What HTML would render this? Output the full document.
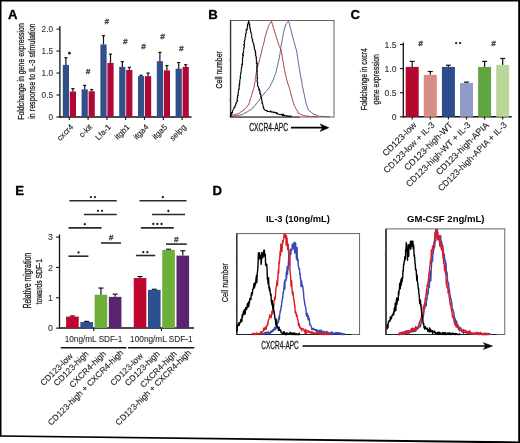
<!DOCTYPE html>
<html><head><meta charset="utf-8"><title>Figure</title>
<style>
html,body{margin:0;padding:0;background:#fff;width:520px;height:443px;overflow:hidden;}
svg{display:block;will-change:transform;}
text{font-family:"Liberation Sans",sans-serif;}
text.n{stroke:#222;stroke-width:0.28px;}
text.t{stroke:#333;stroke-width:0.1px;}
text.m{stroke:#2a2a2a;stroke-width:0.12px;}
</style></head><body>
<svg width="520" height="443" viewBox="0 0 520 443">
<rect x="0" y="0" width="520" height="443" fill="#fff"/>
<text x="8.00" y="18.80" font-size="13.2" text-anchor="start" fill="#000" font-weight="bold" stroke="#000" stroke-width="0.3">A</text>
<line x1="59.90" y1="26.00" x2="59.90" y2="117.60" stroke="#111" stroke-width="1.3"/>
<line x1="59.30" y1="117.00" x2="191.50" y2="117.00" stroke="#111" stroke-width="1.5"/>
<line x1="56.50" y1="29.10" x2="59.90" y2="29.10" stroke="#111" stroke-width="1.1"/>
<text x="53.00" y="32.20" font-size="8.2" text-anchor="end" fill="#333" class="t">2.0</text>
<line x1="56.50" y1="51.07" x2="59.90" y2="51.07" stroke="#111" stroke-width="1.1"/>
<text x="53.00" y="54.17" font-size="8.2" text-anchor="end" fill="#333" class="t">1.5</text>
<line x1="56.50" y1="73.05" x2="59.90" y2="73.05" stroke="#111" stroke-width="1.1"/>
<text x="53.00" y="76.15" font-size="8.2" text-anchor="end" fill="#333" class="t">1.0</text>
<line x1="56.50" y1="95.03" x2="59.90" y2="95.03" stroke="#111" stroke-width="1.1"/>
<text x="53.00" y="98.12" font-size="8.2" text-anchor="end" fill="#333" class="t">0.5</text>
<line x1="56.50" y1="117.00" x2="59.90" y2="117.00" stroke="#111" stroke-width="1.1"/>
<text x="53.00" y="120.10" font-size="8.2" text-anchor="end" fill="#333" class="t">0</text>
<rect x="62.80" y="64.92" width="6.20" height="52.08" fill="#324F8A"/>
<rect x="69.80" y="91.51" width="6.20" height="25.49" fill="#B00836"/>
<line x1="65.90" y1="57.67" x2="65.90" y2="64.92" stroke="#111" stroke-width="1.2"/>
<line x1="64.30" y1="57.67" x2="67.50" y2="57.67" stroke="#111" stroke-width="1.2"/>
<line x1="72.90" y1="88.65" x2="72.90" y2="91.51" stroke="#111" stroke-width="1.2"/>
<line x1="71.30" y1="88.65" x2="74.50" y2="88.65" stroke="#111" stroke-width="1.2"/>
<line x1="69.30" y1="117.00" x2="69.30" y2="119.90" stroke="#111" stroke-width="1.1"/>
<text x="73.90" y="127.60" font-size="8.1" text-anchor="end" fill="#222" class="m" transform="rotate(-45 73.90 127.60)">cxcr4</text>
<circle cx="69.40" cy="53.20" r="1.4" fill="#1a1a1a"/>
<rect x="81.60" y="89.31" width="6.20" height="27.69" fill="#324F8A"/>
<rect x="88.60" y="91.29" width="6.20" height="25.71" fill="#B00836"/>
<line x1="84.70" y1="85.36" x2="84.70" y2="89.31" stroke="#111" stroke-width="1.2"/>
<line x1="83.10" y1="85.36" x2="86.30" y2="85.36" stroke="#111" stroke-width="1.2"/>
<line x1="91.70" y1="89.53" x2="91.70" y2="91.29" stroke="#111" stroke-width="1.2"/>
<line x1="90.10" y1="89.53" x2="93.30" y2="89.53" stroke="#111" stroke-width="1.2"/>
<line x1="88.10" y1="117.00" x2="88.10" y2="119.90" stroke="#111" stroke-width="1.1"/>
<text x="92.70" y="127.60" font-size="8.1" text-anchor="end" fill="#222" class="m" transform="rotate(-45 92.70 127.60)">c-kit</text>
<text x="88.10" y="73.80" font-size="8" text-anchor="middle" font-weight="bold" fill="#4a4a4a" stroke="#4a4a4a" stroke-width="0.35" font-style="italic">#</text>
<rect x="100.40" y="44.48" width="6.20" height="72.52" fill="#324F8A"/>
<rect x="107.40" y="62.94" width="6.20" height="54.06" fill="#B00836"/>
<line x1="103.50" y1="35.69" x2="103.50" y2="44.48" stroke="#111" stroke-width="1.2"/>
<line x1="101.90" y1="35.69" x2="105.10" y2="35.69" stroke="#111" stroke-width="1.2"/>
<line x1="110.50" y1="54.15" x2="110.50" y2="62.94" stroke="#111" stroke-width="1.2"/>
<line x1="108.90" y1="54.15" x2="112.10" y2="54.15" stroke="#111" stroke-width="1.2"/>
<line x1="106.90" y1="117.00" x2="106.90" y2="119.90" stroke="#111" stroke-width="1.1"/>
<text x="111.50" y="127.60" font-size="8.1" text-anchor="end" fill="#222" class="m" transform="rotate(-45 111.50 127.60)">Lfa-1</text>
<text x="106.80" y="23.90" font-size="8" text-anchor="middle" font-weight="bold" fill="#4a4a4a" stroke="#4a4a4a" stroke-width="0.35" font-style="italic">#</text>
<rect x="119.20" y="66.90" width="6.20" height="50.10" fill="#324F8A"/>
<rect x="126.20" y="69.97" width="6.20" height="47.03" fill="#B00836"/>
<line x1="122.30" y1="61.62" x2="122.30" y2="66.90" stroke="#111" stroke-width="1.2"/>
<line x1="120.70" y1="61.62" x2="123.90" y2="61.62" stroke="#111" stroke-width="1.2"/>
<line x1="129.30" y1="67.34" x2="129.30" y2="69.97" stroke="#111" stroke-width="1.2"/>
<line x1="127.70" y1="67.34" x2="130.90" y2="67.34" stroke="#111" stroke-width="1.2"/>
<line x1="125.70" y1="117.00" x2="125.70" y2="119.90" stroke="#111" stroke-width="1.1"/>
<text x="130.30" y="127.60" font-size="8.1" text-anchor="end" fill="#222" class="m" transform="rotate(-45 130.30 127.60)">itgb1</text>
<text x="125.30" y="44.20" font-size="8" text-anchor="middle" font-weight="bold" fill="#4a4a4a" stroke="#4a4a4a" stroke-width="0.35" font-style="italic">#</text>
<rect x="138.00" y="76.13" width="6.20" height="40.87" fill="#324F8A"/>
<rect x="145.00" y="76.13" width="6.20" height="40.87" fill="#B00836"/>
<line x1="141.10" y1="75.25" x2="141.10" y2="76.13" stroke="#111" stroke-width="1.2"/>
<line x1="139.50" y1="75.25" x2="142.70" y2="75.25" stroke="#111" stroke-width="1.2"/>
<line x1="148.10" y1="73.05" x2="148.10" y2="76.13" stroke="#111" stroke-width="1.2"/>
<line x1="146.50" y1="73.05" x2="149.70" y2="73.05" stroke="#111" stroke-width="1.2"/>
<line x1="144.50" y1="117.00" x2="144.50" y2="119.90" stroke="#111" stroke-width="1.1"/>
<text x="149.10" y="127.60" font-size="8.1" text-anchor="end" fill="#222" class="m" transform="rotate(-45 149.10 127.60)">itga4</text>
<text x="143.40" y="48.80" font-size="8" text-anchor="middle" font-weight="bold" fill="#4a4a4a" stroke="#4a4a4a" stroke-width="0.35" font-style="italic">#</text>
<rect x="156.80" y="61.18" width="6.20" height="55.82" fill="#324F8A"/>
<rect x="163.80" y="70.41" width="6.20" height="46.59" fill="#B00836"/>
<line x1="159.90" y1="52.39" x2="159.90" y2="61.18" stroke="#111" stroke-width="1.2"/>
<line x1="158.30" y1="52.39" x2="161.50" y2="52.39" stroke="#111" stroke-width="1.2"/>
<line x1="166.90" y1="65.58" x2="166.90" y2="70.41" stroke="#111" stroke-width="1.2"/>
<line x1="165.30" y1="65.58" x2="168.50" y2="65.58" stroke="#111" stroke-width="1.2"/>
<line x1="163.30" y1="117.00" x2="163.30" y2="119.90" stroke="#111" stroke-width="1.1"/>
<text x="167.90" y="127.60" font-size="8.1" text-anchor="end" fill="#222" class="m" transform="rotate(-45 167.90 127.60)">itga5</text>
<text x="162.60" y="39.10" font-size="8" text-anchor="middle" font-weight="bold" fill="#4a4a4a" stroke="#4a4a4a" stroke-width="0.35" font-style="italic">#</text>
<rect x="175.60" y="68.66" width="6.20" height="48.35" fill="#324F8A"/>
<rect x="182.60" y="66.90" width="6.20" height="50.10" fill="#B00836"/>
<line x1="178.70" y1="62.50" x2="178.70" y2="68.66" stroke="#111" stroke-width="1.2"/>
<line x1="177.10" y1="62.50" x2="180.30" y2="62.50" stroke="#111" stroke-width="1.2"/>
<line x1="185.70" y1="64.70" x2="185.70" y2="66.90" stroke="#111" stroke-width="1.2"/>
<line x1="184.10" y1="64.70" x2="187.30" y2="64.70" stroke="#111" stroke-width="1.2"/>
<line x1="182.10" y1="117.00" x2="182.10" y2="119.90" stroke="#111" stroke-width="1.1"/>
<text x="186.70" y="127.60" font-size="8.1" text-anchor="end" fill="#222" class="m" transform="rotate(-45 186.70 127.60)">selpg</text>
<text x="181.30" y="50.60" font-size="8" text-anchor="middle" font-weight="bold" fill="#4a4a4a" stroke="#4a4a4a" stroke-width="0.35" font-style="italic">#</text>
<text x="23.80" y="71.50" font-size="9.8" text-anchor="middle" fill="#222" class="n" textLength="96.60" lengthAdjust="spacingAndGlyphs" transform="rotate(-90 23.80 71.50)">Foldchange in gene expression</text>
<text x="35.20" y="71.10" font-size="9.6" text-anchor="middle" fill="#222" class="n" textLength="95.40" lengthAdjust="spacingAndGlyphs" transform="rotate(-90 35.20 71.10)">in response to IL-3 stimulation</text>
<text x="208.20" y="18.80" font-size="13.2" text-anchor="start" fill="#000" font-weight="bold" stroke="#000" stroke-width="0.3">B</text>
<rect x="230.3" y="20.5" width="103.69999999999999" height="96.5" fill="none" stroke="#555" stroke-width="0.9"/>
<line x1="230.70" y1="20.50" x2="230.70" y2="117.30" stroke="#2a2a2a" stroke-width="1.1"/>
<line x1="230.20" y1="117.10" x2="300.00" y2="117.10" stroke="#3a3a3a" stroke-width="1.0"/>
<line x1="228.80" y1="40.00" x2="230.30" y2="40.00" stroke="#777" stroke-width="0.6"/>
<line x1="228.80" y1="60.00" x2="230.30" y2="60.00" stroke="#777" stroke-width="0.6"/>
<line x1="228.80" y1="80.00" x2="230.30" y2="80.00" stroke="#777" stroke-width="0.6"/>
<line x1="228.80" y1="100.00" x2="230.30" y2="100.00" stroke="#777" stroke-width="0.6"/>
<path d="M231.02,116.54 L231.73,116.48 L232.63,116.29 L233.51,115.98 L234.14,116.12 L234.91,115.94 L235.73,115.70 L236.50,115.71 L237.27,115.56 L238.13,115.43 L238.88,115.28 L239.81,115.21 L240.49,114.94 L241.30,114.88 L242.07,114.49 L242.68,114.26 L243.53,113.83 L244.08,113.42 L244.78,113.00 L245.53,112.70 L246.26,112.37 L246.87,111.98 L247.66,111.74 L248.21,111.28 L249.13,110.41 L249.69,110.08 L250.32,109.86 L250.98,109.41 L251.70,109.06 L252.31,108.55 L252.77,108.17 L253.29,107.17 L253.87,106.65 L254.36,106.33 L254.99,105.55 L255.52,104.94 L255.95,104.19 L256.50,103.44 L256.87,103.04 L257.50,102.39 L257.91,101.58 L258.42,101.00 L258.98,100.42 L259.13,99.66 L259.80,99.12 L260.16,98.49 L260.76,97.83 L261.08,97.12 L261.62,96.61 L262.19,96.03 L262.74,95.35 L263.21,94.61 L263.66,94.18 L264.20,93.42 L264.83,92.98 L265.28,92.13 L265.66,91.76 L266.38,91.04 L266.87,90.29 L267.43,89.79 L267.85,89.23 L268.47,88.65 L268.84,87.89 L269.49,87.27 L269.83,86.76 L270.26,85.95 L270.62,85.31 L270.82,84.65 L271.21,83.64 L271.56,83.14 L271.99,82.53 L272.29,81.62 L272.47,80.83 L272.94,80.30 L273.28,79.50 L273.70,78.84 L273.70,77.95 L274.10,77.08 L274.56,76.50 L274.65,75.73 L274.97,75.13 L275.42,74.33 L275.69,73.34 L275.74,72.62 L276.02,72.09 L276.17,71.29 L276.47,70.35 L276.53,69.65 L276.80,68.92 L276.83,68.15 L277.07,67.42 L277.27,66.57 L277.55,65.75 L277.69,64.95 L277.77,64.33 L278.07,63.15 L278.26,62.63 L278.37,61.87 L278.55,60.92 L278.74,60.35 L278.80,59.45 L279.14,58.86 L279.32,57.96 L279.36,57.26 L279.61,56.54 L279.57,55.65 L279.76,54.71 L279.89,53.84 L280.21,53.44 L280.05,52.43 L280.34,51.57 L280.50,50.88 L280.58,50.05 L280.76,49.38 L280.71,48.49 L280.74,47.70 L281.10,46.82 L281.07,46.18 L281.27,45.20 L281.32,44.62 L281.63,43.93 L281.75,42.78 L281.77,41.88 L282.04,41.46 L282.12,40.90 L282.24,39.69 L282.39,38.87 L282.51,38.31 L282.72,37.35 L282.83,36.60 L282.92,35.83 L283.17,35.15 L283.18,34.25 L283.39,33.54 L283.54,32.70 L283.77,31.83 L283.75,31.11 L284.16,30.27 L284.27,29.62 L284.48,28.72 L284.68,27.96 L285.02,27.50 L285.21,26.55 L285.35,25.79 L285.59,25.09 L285.87,24.22 L286.27,23.57 L286.92,23.02 L287.44,22.38 L287.90,21.59 L288.36,21.21 L288.61,21.35 L288.87,22.06 L289.15,22.85 L289.47,23.68 L289.59,24.69 L289.71,25.13 L289.95,26.06 L290.13,26.55 L290.32,27.58 L290.57,28.46 L290.78,29.10 L291.09,29.83 L291.13,30.72 L291.42,31.55 L291.63,32.33 L291.68,33.26 L291.98,33.83 L292.09,34.51 L292.18,35.35 L292.42,36.13 L292.58,36.93 L292.79,37.68 L293.02,38.48 L293.28,39.02 L293.53,40.09 L293.66,40.68 L293.96,41.38 L294.06,42.36 L294.44,43.21 L294.70,43.88 L294.89,44.60 L295.11,45.24 L295.32,46.48 L295.41,47.02 L295.64,47.55 L295.89,48.37 L296.11,49.25 L296.26,49.83 L296.62,50.82 L296.60,51.52 L296.87,52.50 L297.08,53.24 L297.10,53.59 L297.16,54.71 L297.25,55.31 L297.47,56.42 L297.67,57.10 L297.72,57.94 L297.83,58.54 L297.90,59.68 L298.09,60.49 L297.99,60.91 L298.30,61.88 L298.40,62.54 L298.41,63.41 L298.81,64.05 L298.64,65.22 L298.78,65.67 L298.89,66.54 L299.20,67.43 L299.16,68.08 L299.42,68.92 L299.55,69.67 L299.66,70.51 L299.67,71.17 L299.87,72.05 L300.19,72.86 L300.09,73.64 L300.26,74.47 L300.45,75.22 L300.67,76.13 L300.76,76.79 L300.95,77.60 L300.95,78.32 L301.26,79.12 L301.38,79.82 L301.36,80.82 L301.75,81.41 L301.96,82.24 L301.87,83.16 L302.08,83.95 L302.34,84.64 L302.25,85.23 L302.36,86.31 L302.56,87.08 L302.77,87.67 L302.92,88.71 L303.16,89.32 L303.28,90.06 L303.31,90.99 L303.60,91.75 L303.87,92.57 L303.99,93.14 L304.14,94.33 L304.23,94.82 L304.48,95.49 L304.50,96.53 L304.80,97.20 L304.91,98.06 L305.17,98.76 L305.29,99.58 L305.34,100.40 L305.61,101.06 L305.86,102.01 L305.85,102.65 L306.10,103.38 L306.32,104.26 L306.49,105.07 L306.92,105.75 L307.18,106.44 L307.37,107.38 L307.56,107.86 L307.77,108.72 L308.02,109.61 L308.56,109.96 L309.30,110.64 L309.92,111.15 L310.52,111.78 L311.02,112.08 L311.68,112.63 L312.27,113.26 L313.03,113.44 L313.58,114.52 L314.16,114.36 L315.09,114.65 L315.95,115.13 L316.60,115.32 L317.36,115.41 L318.03,115.99 L318.62,116.31 L319.41,116.27 L320.26,116.33 L321.14,116.46 L321.98,116.33 L322.81,116.52 L323.52,116.53 L324.43,116.46 L325.13,116.41 L325.89,116.59 L326.82,116.55 L327.47,116.81 L328.13,116.74 L329.06,116.86 L329.95,116.81" fill="none" stroke="#4B528E" stroke-width="1.0" stroke-linejoin="round"/>
<path d="M231.07,115.82 L231.55,115.51 L232.47,115.29 L233.26,114.81 L233.91,115.09 L234.74,114.78 L235.52,114.37 L236.40,114.27 L237.15,113.98 L238.10,113.65 L238.62,113.58 L239.41,113.00 L240.00,112.56 L240.69,112.07 L241.24,111.78 L241.85,111.28 L242.62,110.92 L243.41,110.35 L244.14,110.00 L244.60,109.28 L245.12,108.89 L245.54,108.21 L246.26,107.63 L246.78,107.04 L247.16,106.27 L247.73,105.89 L248.18,105.44 L248.86,104.37 L249.01,103.59 L249.20,102.86 L249.48,102.37 L249.72,101.52 L249.88,100.87 L250.05,100.06 L250.28,99.24 L250.48,98.48 L250.89,97.66 L251.27,97.02 L251.19,96.02 L251.57,95.34 L251.82,94.65 L251.95,94.07 L252.28,93.00 L252.41,92.20 L252.83,91.50 L252.92,90.92 L253.21,90.01 L253.49,89.43 L253.63,88.28 L253.76,87.88 L254.08,87.09 L254.30,86.01 L254.35,85.41 L254.50,84.74 L254.51,83.82 L254.73,83.14 L254.89,82.51 L254.96,81.47 L255.23,80.61 L255.18,79.76 L255.23,79.14 L255.30,78.25 L255.64,77.46 L255.67,76.67 L255.87,75.97 L255.95,74.98 L256.16,74.13 L256.25,73.23 L256.24,72.88 L256.41,71.95 L256.59,71.33 L256.53,70.36 L256.86,69.48 L257.02,68.85 L257.24,68.02 L257.37,67.11 L257.65,66.39 L257.77,65.94 L258.09,65.01 L258.28,64.25 L258.56,63.40 L258.75,62.58 L259.04,62.01 L259.35,61.12 L259.38,60.28 L259.77,59.58 L259.72,58.71 L259.89,58.07 L260.24,57.40 L260.44,56.39 L260.66,55.88 L260.68,54.85 L260.99,54.17 L261.19,53.27 L261.46,52.57 L261.54,51.82 L261.78,50.99 L261.85,50.18 L262.11,49.41 L262.28,48.61 L262.56,47.75 L262.62,47.13 L262.82,46.43 L263.13,45.71 L263.42,44.90 L263.50,44.35 L263.68,43.31 L263.82,42.44 L264.13,41.95 L264.28,40.82 L264.57,40.28 L264.65,39.28 L264.74,38.66 L264.96,37.60 L265.12,37.17 L265.29,36.27 L265.68,35.39 L265.84,34.93 L265.87,34.05 L266.30,33.18 L266.39,32.32 L266.56,31.65 L266.93,30.88 L267.17,30.23 L267.38,29.49 L267.55,28.56 L267.98,27.82 L268.27,27.07 L268.30,26.21 L268.82,25.55 L269.12,24.87 L269.47,24.29 L269.95,23.69 L270.35,22.77 L270.73,22.26 L271.20,21.46 L271.69,21.64 L271.69,22.16 L272.05,22.99 L272.27,23.59 L272.42,24.37 L272.66,25.26 L272.81,25.96 L273.08,26.82 L273.37,27.35 L273.62,28.39 L273.77,28.96 L274.32,30.04 L274.27,30.56 L274.57,31.49 L274.78,31.96 L275.01,32.94 L275.38,33.54 L275.48,34.35 L275.87,35.18 L276.09,35.90 L276.15,36.73 L276.56,37.56 L276.66,38.31 L277.17,38.98 L277.16,39.59 L277.35,40.43 L277.51,41.26 L277.80,41.79 L278.09,42.90 L278.30,43.55 L278.52,44.31 L278.88,45.19 L279.25,45.88 L279.70,46.56 L279.77,47.15 L280.19,48.04 L280.48,48.77 L280.75,49.36 L281.10,50.32 L281.25,51.05 L281.51,51.54 L281.57,52.58 L281.66,53.20 L281.88,54.28 L281.98,55.03 L282.07,55.59 L282.25,56.41 L282.28,57.32 L282.52,58.07 L282.64,59.07 L282.69,59.76 L282.76,60.43 L283.10,61.32 L283.12,61.80 L283.49,62.87 L283.33,63.72 L283.59,64.39 L283.62,65.11 L283.82,66.05 L284.00,67.01 L284.01,67.58 L284.20,68.21 L284.36,69.31 L284.50,69.70 L284.71,70.76 L284.92,71.41 L285.09,72.38 L285.22,72.94 L285.35,73.98 L285.46,74.64 L285.67,75.18 L285.87,75.93 L286.15,76.90 L286.24,77.88 L286.35,78.52 L286.68,79.29 L286.78,80.02 L287.02,80.90 L287.31,81.62 L287.60,82.37 L287.61,82.98 L287.96,84.01 L288.30,84.79 L288.50,85.24 L288.70,86.43 L288.97,87.00 L289.36,87.62 L289.46,88.21 L289.78,89.29 L289.99,90.05 L290.09,90.68 L290.36,91.32 L290.49,92.44 L290.68,93.01 L290.84,93.80 L291.20,94.97 L291.30,95.66 L291.49,96.29 L291.64,96.90 L292.07,97.81 L292.20,98.22 L292.36,99.28 L292.54,99.94 L292.69,100.65 L293.06,101.38 L293.29,102.40 L293.38,103.12 L293.81,103.89 L294.00,104.74 L294.13,105.29 L294.54,105.95 L294.93,106.58 L295.36,107.46 L295.72,108.30 L295.98,108.89 L296.61,109.69 L296.90,110.17 L297.36,110.96 L297.74,111.63 L298.01,112.27 L298.43,113.35 L299.10,113.67 L299.82,113.82 L300.46,114.17 L301.15,114.61 L301.92,114.80 L302.57,115.37 L303.34,115.42 L304.00,115.70 L304.96,115.79 L305.65,116.01 L306.47,116.08 L307.29,116.21 L308.12,116.31 L309.05,116.38 L309.71,116.45 L310.38,116.53 L311.31,116.73 L312.05,116.68 L312.93,116.58 L313.64,116.73 L314.44,116.59 L315.25,116.87 L316.04,116.79 L316.75,116.60 L317.64,116.88" fill="none" stroke="#A2283E" stroke-width="1.0" stroke-linejoin="round"/>
<path d="M230.22,117.00 L230.53,114.88 L230.87,115.75 L231.15,114.84 L230.94,114.43 L231.61,114.07 L231.16,112.80 L231.93,113.14 L231.59,112.40 L231.86,113.82 L232.54,111.97 L232.47,111.25 L232.56,110.82 L232.85,110.18 L233.27,109.55 L233.33,109.39 L233.53,109.32 L234.00,108.53 L233.75,108.61 L234.01,107.63 L234.19,107.27 L234.82,107.50 L234.97,106.59 L235.25,105.66 L235.12,105.35 L235.29,105.21 L235.74,105.38 L235.63,103.93 L236.14,103.49 L236.31,103.59 L236.16,102.28 L236.51,102.09 L236.70,102.16 L237.37,101.57 L237.78,100.89 L237.22,100.67 L237.31,98.60 L236.80,99.84 L237.49,98.45 L237.50,97.63 L237.30,98.01 L237.83,97.71 L237.31,96.70 L237.72,95.92 L237.87,95.92 L237.59,95.39 L238.18,95.55 L238.30,94.76 L237.75,94.01 L237.81,93.93 L238.38,92.84 L238.29,92.02 L238.06,92.20 L238.35,91.71 L238.46,90.85 L238.52,90.10 L238.83,90.06 L238.78,88.34 L239.20,89.28 L239.16,88.69 L239.05,87.24 L239.22,87.51 L239.35,86.55 L239.26,86.83 L238.84,85.08 L239.43,85.09 L239.30,85.32 L239.75,85.03 L239.43,83.04 L239.61,83.29 L239.62,83.17 L240.03,82.25 L239.72,82.74 L239.67,81.00 L239.88,81.20 L239.76,80.07 L239.97,80.68 L240.00,79.54 L240.13,78.89 L240.61,77.78 L240.10,78.82 L240.27,77.90 L240.28,77.41 L240.56,77.09 L240.17,76.24 L240.35,75.30 L240.58,74.73 L240.80,74.23 L240.71,74.71 L240.67,72.94 L240.64,72.84 L241.05,72.47 L241.35,72.22 L241.14,71.88 L241.17,70.56 L241.30,69.85 L241.02,70.13 L241.24,70.18 L241.32,69.48 L241.52,68.74 L241.51,68.01 L241.28,67.79 L241.93,67.05 L242.14,67.03 L241.71,65.81 L241.95,65.73 L241.98,65.13 L242.17,64.92 L241.67,64.28 L242.51,64.84 L242.06,63.87 L242.56,63.37 L242.33,61.28 L242.28,61.55 L242.40,60.94 L242.73,60.95 L242.36,59.19 L242.53,60.25 L242.56,59.70 L242.30,58.14 L243.11,57.79 L242.98,57.37 L242.88,57.25 L243.23,57.03 L242.75,57.16 L243.02,55.65 L243.52,55.59 L243.39,54.82 L242.64,55.04 L242.41,54.09 L243.04,53.87 L243.62,52.27 L243.28,52.18 L243.40,51.40 L243.66,51.94 L243.34,51.07 L243.66,50.14 L243.86,49.57 L243.83,49.50 L243.86,48.47 L243.66,47.86 L243.99,48.00 L243.81,48.40 L244.30,46.68 L244.66,46.04 L243.89,45.27 L243.58,44.70 L244.07,45.04 L244.32,44.69 L244.54,43.81 L244.60,43.46 L244.19,42.86 L244.23,42.38 L244.80,41.13 L244.26,41.11 L244.86,40.87 L244.61,39.98 L244.94,39.62 L245.02,38.98 L245.12,38.70 L245.22,38.74 L244.86,37.69 L245.26,37.31 L245.28,37.25 L245.44,36.68 L245.76,36.66 L245.47,34.47 L245.45,35.30 L245.53,34.21 L245.72,33.99 L246.08,33.81 L245.77,33.43 L246.35,32.92 L246.22,32.03 L246.18,32.19 L245.99,30.85 L246.48,30.42 L246.67,30.35 L246.18,29.26 L247.04,29.99 L247.27,28.99 L247.07,29.03 L247.22,27.55 L247.83,26.91 L247.65,26.67 L247.24,26.44 L247.58,25.36 L247.66,25.31 L247.78,24.64 L247.35,24.89 L248.25,23.38 L248.02,23.67 L248.34,22.42 L248.39,21.79 L248.76,21.42 L248.59,20.72 L248.57,21.50 L249.00,22.39 L249.32,22.49 L248.98,23.19 L249.51,24.13 L249.33,24.01 L249.23,24.46 L249.84,24.74 L249.36,24.63 L249.91,26.19 L249.63,25.54 L249.97,27.12 L249.65,27.31 L249.85,28.31 L250.42,28.26 L250.30,28.41 L250.36,29.44 L250.34,29.51 L250.66,30.17 L250.29,30.77 L250.46,31.18 L250.79,31.64 L250.71,31.85 L250.84,32.63 L251.09,32.24 L251.17,33.62 L251.24,33.65 L251.81,35.18 L251.74,35.74 L251.88,34.78 L251.66,36.22 L251.64,36.58 L251.49,36.66 L251.86,37.86 L251.52,37.91 L251.99,37.81 L252.42,38.98 L252.73,39.52 L252.66,40.13 L252.29,40.02 L252.73,41.34 L252.50,41.88 L253.00,41.53 L252.89,42.23 L253.27,42.97 L253.83,43.24 L253.55,44.76 L254.04,44.55 L253.63,44.48 L253.64,45.06 L254.19,45.87 L254.42,47.41 L253.99,46.78 L254.28,47.40 L254.04,48.06 L254.48,48.29 L254.88,49.82 L254.78,49.03 L254.79,50.09 L254.69,50.31 L255.21,51.01 L255.40,50.70 L255.43,52.52 L255.43,52.16 L255.12,52.72 L255.96,52.78 L255.59,53.37 L255.65,54.44 L255.95,55.12 L255.31,55.51 L255.91,56.21 L255.97,56.48 L256.18,56.67 L256.51,57.52 L256.37,57.91 L255.87,58.09 L256.33,58.96 L256.54,59.70 L256.61,59.72 L256.33,59.95 L256.32,60.93 L256.94,61.95 L256.90,61.50 L256.83,62.05 L256.42,62.53 L257.31,63.65 L256.15,62.77 L256.80,64.26 L257.43,65.13 L256.88,64.73 L257.00,66.26 L256.66,66.34 L257.31,66.35 L256.66,67.19 L257.06,66.90 L257.05,67.84 L256.76,69.42 L257.26,68.69 L256.70,70.42 L256.90,70.06 L257.08,71.04 L257.00,71.11 L257.23,70.58 L257.36,71.83 L257.07,72.68 L257.03,72.57 L257.05,72.98 L257.10,74.26 L257.41,74.30 L257.17,74.33 L257.34,75.28 L257.23,76.48 L257.06,76.38 L257.50,77.51 L257.04,78.28 L257.31,78.10 L257.70,78.08 L257.07,78.50 L257.34,79.58 L256.97,80.48 L257.26,80.71 L257.03,81.33 L257.33,81.39 L257.30,82.22 L257.48,82.38 L257.86,82.94 L257.55,83.01 L257.66,83.38 L257.54,84.36 L257.65,84.56 L257.65,85.10 L257.56,86.31 L258.17,86.44 L258.71,88.27 L258.58,87.86 L258.47,87.63 L259.17,88.74 L258.80,89.03 L258.90,89.04 L258.90,90.32 L259.12,89.95 L259.45,89.40 L260.16,91.61 L259.76,91.45 L259.70,92.88 L259.96,92.39 L260.20,92.63 L259.98,94.34 L260.59,93.63 L260.88,94.68 L260.94,95.72 L261.12,95.61 L260.75,96.01 L260.74,96.58 L261.58,97.41 L261.63,97.16 L261.07,98.28 L261.61,98.76 L261.66,100.04 L261.89,99.33 L261.90,99.56 L261.82,100.79 L262.09,100.77 L262.18,101.57 L262.22,101.99 L261.87,102.95 L261.68,102.62 L262.33,103.36 L262.22,102.75 L262.79,103.98 L263.00,105.57 L262.98,105.06 L262.92,105.54 L263.13,105.80 L263.50,107.10 L263.13,107.41 L263.64,107.28 L263.68,108.61 L263.67,108.92 L264.37,109.43 L264.24,109.09 L265.06,110.45 L265.00,110.14 L265.45,110.19 L265.79,110.28 L266.65,110.54 L266.79,111.16 L267.52,110.79 L267.70,111.52 L268.74,111.43 L269.41,111.90 L269.49,111.79 L270.33,111.51 L270.55,110.76 L271.45,111.84 L271.42,112.15 L271.50,111.95 L272.76,112.21 L272.85,111.83 L273.11,111.96 L273.70,111.79 L273.94,112.97 L274.78,112.57 L275.03,112.42 L276.15,112.18 L276.43,112.85 L276.33,113.71 L276.84,113.41 L277.56,113.02 L277.70,114.13 L278.63,114.27 L279.13,114.21 L279.43,114.27 L279.96,114.57 L280.70,114.44 L281.42,114.67 L281.92,114.09 L282.04,115.25 L282.73,114.80 L282.81,115.73 L283.59,114.03 L283.73,115.39 L284.63,115.64 L284.62,115.17 L285.18,115.65 L285.90,115.91 L286.53,115.92 L286.53,115.49 L287.25,115.74 L287.91,116.34 L288.43,116.53 L288.66,116.07 L289.39,116.14 L289.79,116.27 L290.70,116.72 L290.98,115.85 L291.01,115.80 L291.28,116.53" fill="none" stroke="#000" stroke-width="1.05" stroke-linejoin="round"/>
<text x="222.30" y="69.80" font-size="9.2" text-anchor="middle" fill="#222" class="n" textLength="37.20" lengthAdjust="spacingAndGlyphs" transform="rotate(-90 222.30 69.80)">Cell number</text>
<text x="249.20" y="131.00" font-size="10.2" text-anchor="start" fill="#111" class="n" textLength="38.90" lengthAdjust="spacingAndGlyphs">CXCR4-APC</text>
<line x1="291.00" y1="127.70" x2="326.00" y2="127.70" stroke="#000" stroke-width="1.8"/>
<path d="M320.2,124.0 L328.8,127.7 L320.2,131.4 L322.6,127.7 Z" fill="#000" stroke="#000" stroke-width="0.6"/>
<text x="350.60" y="18.80" font-size="13.2" text-anchor="start" fill="#000" font-weight="bold" stroke="#000" stroke-width="0.3">C</text>
<line x1="403.30" y1="42.50" x2="403.30" y2="117.40" stroke="#111" stroke-width="1.3"/>
<line x1="402.70" y1="116.80" x2="511.70" y2="116.80" stroke="#111" stroke-width="1.5"/>
<line x1="399.90" y1="44.50" x2="403.30" y2="44.50" stroke="#111" stroke-width="1.1"/>
<text x="396.50" y="47.60" font-size="8.6" text-anchor="end" fill="#333" class="t">1.5</text>
<line x1="399.90" y1="68.60" x2="403.30" y2="68.60" stroke="#111" stroke-width="1.1"/>
<text x="396.50" y="71.70" font-size="8.6" text-anchor="end" fill="#333" class="t">1.0</text>
<line x1="399.90" y1="92.70" x2="403.30" y2="92.70" stroke="#111" stroke-width="1.1"/>
<text x="396.50" y="95.80" font-size="8.6" text-anchor="end" fill="#333" class="t">0.5</text>
<line x1="399.90" y1="116.80" x2="403.30" y2="116.80" stroke="#111" stroke-width="1.1"/>
<text x="396.50" y="119.90" font-size="8.6" text-anchor="end" fill="#333" class="t">0</text>
<line x1="412.20" y1="61.37" x2="412.20" y2="66.91" stroke="#111" stroke-width="1.2"/>
<line x1="409.70" y1="61.37" x2="414.70" y2="61.37" stroke="#111" stroke-width="1.2"/>
<rect x="405.70" y="66.91" width="13.00" height="49.89" fill="#B5082F"/>
<line x1="412.20" y1="116.80" x2="412.20" y2="119.60" stroke="#111" stroke-width="1.1"/>
<text x="417.00" y="125.70" font-size="8.9" text-anchor="end" fill="#222" class="m" transform="rotate(-45 417.00 125.70)">CD123-low</text>
<line x1="430.30" y1="71.49" x2="430.30" y2="74.87" stroke="#111" stroke-width="1.2"/>
<line x1="427.80" y1="71.49" x2="432.80" y2="71.49" stroke="#111" stroke-width="1.2"/>
<rect x="423.80" y="74.87" width="13.00" height="41.93" fill="#D98C84"/>
<line x1="430.30" y1="116.80" x2="430.30" y2="119.60" stroke="#111" stroke-width="1.1"/>
<text x="435.10" y="125.70" font-size="8.7" text-anchor="end" fill="#222" class="m" transform="rotate(-45 435.10 125.70)">CD123-low + IL-3</text>
<line x1="448.40" y1="65.23" x2="448.40" y2="66.91" stroke="#111" stroke-width="1.2"/>
<line x1="445.90" y1="65.23" x2="450.90" y2="65.23" stroke="#111" stroke-width="1.2"/>
<rect x="441.90" y="66.91" width="13.00" height="49.89" fill="#2B4B8C"/>
<line x1="448.40" y1="116.80" x2="448.40" y2="119.60" stroke="#111" stroke-width="1.1"/>
<text x="453.20" y="125.70" font-size="8.9" text-anchor="end" fill="#222" class="m" transform="rotate(-45 453.20 125.70)">CD123-high-WT</text>
<line x1="466.50" y1="82.10" x2="466.50" y2="83.06" stroke="#111" stroke-width="1.2"/>
<line x1="464.00" y1="82.10" x2="469.00" y2="82.10" stroke="#111" stroke-width="1.2"/>
<rect x="460.00" y="83.06" width="13.00" height="33.74" fill="#919BC8"/>
<line x1="466.50" y1="116.80" x2="466.50" y2="119.60" stroke="#111" stroke-width="1.1"/>
<text x="471.30" y="125.70" font-size="8.7" text-anchor="end" fill="#222" class="m" transform="rotate(-45 471.30 125.70)">CD123-high-WT + IL-3</text>
<line x1="484.60" y1="61.37" x2="484.60" y2="66.91" stroke="#111" stroke-width="1.2"/>
<line x1="482.10" y1="61.37" x2="487.10" y2="61.37" stroke="#111" stroke-width="1.2"/>
<rect x="478.10" y="66.91" width="13.00" height="49.89" fill="#5FA541"/>
<line x1="484.60" y1="116.80" x2="484.60" y2="119.60" stroke="#111" stroke-width="1.1"/>
<text x="489.40" y="125.70" font-size="8.9" text-anchor="end" fill="#222" class="m" transform="rotate(-45 489.40 125.70)">CD123-high-APIA</text>
<line x1="502.70" y1="58.48" x2="502.70" y2="64.89" stroke="#111" stroke-width="1.2"/>
<line x1="500.20" y1="58.48" x2="505.20" y2="58.48" stroke="#111" stroke-width="1.2"/>
<rect x="496.20" y="64.89" width="13.00" height="51.91" fill="#B9D79B"/>
<line x1="502.70" y1="116.80" x2="502.70" y2="119.60" stroke="#111" stroke-width="1.1"/>
<text x="507.50" y="125.70" font-size="8.7" text-anchor="end" fill="#222" class="m" transform="rotate(-45 507.50 125.70)">CD123-high-APIA + IL-3</text>
<text x="420.60" y="45.80" font-size="8" text-anchor="middle" font-weight="bold" fill="#4a4a4a" stroke="#4a4a4a" stroke-width="0.35" font-style="italic">#</text>
<circle cx="456.15" cy="43.10" r="1.15" fill="#1a1a1a"/>
<circle cx="460.05" cy="43.10" r="1.15" fill="#1a1a1a"/>
<text x="493.40" y="45.80" font-size="8" text-anchor="middle" font-weight="bold" fill="#4a4a4a" stroke="#4a4a4a" stroke-width="0.35" font-style="italic">#</text>
<text x="367.20" y="79.20" font-size="9.8" text-anchor="middle" fill="#222" class="n" textLength="62.20" lengthAdjust="spacingAndGlyphs" transform="rotate(-90 367.20 79.20)">Foldchange in cxcr4</text>
<text x="378.80" y="79.40" font-size="9.8" text-anchor="middle" fill="#222" class="n" textLength="50.40" lengthAdjust="spacingAndGlyphs" transform="rotate(-90 378.80 79.40)">gene expression</text>
<text x="15.30" y="194.80" font-size="13.2" text-anchor="start" fill="#000" font-weight="bold" stroke="#000" stroke-width="0.3">E</text>
<line x1="59.50" y1="234.50" x2="59.50" y2="328.70" stroke="#111" stroke-width="1.3"/>
<line x1="58.90" y1="328.10" x2="194.00" y2="328.10" stroke="#111" stroke-width="1.5"/>
<line x1="56.10" y1="237.11" x2="59.50" y2="237.11" stroke="#111" stroke-width="1.1"/>
<text x="53.00" y="240.31" font-size="8.8" text-anchor="end" fill="#333" class="t">3</text>
<line x1="56.10" y1="267.44" x2="59.50" y2="267.44" stroke="#111" stroke-width="1.1"/>
<text x="53.00" y="270.64" font-size="8.8" text-anchor="end" fill="#333" class="t">2</text>
<line x1="56.10" y1="297.77" x2="59.50" y2="297.77" stroke="#111" stroke-width="1.1"/>
<text x="53.00" y="300.97" font-size="8.8" text-anchor="end" fill="#333" class="t">1</text>
<line x1="56.10" y1="328.10" x2="59.50" y2="328.10" stroke="#111" stroke-width="1.1"/>
<text x="53.00" y="331.30" font-size="8.8" text-anchor="end" fill="#333" class="t">0</text>
<line x1="72.40" y1="315.97" x2="72.40" y2="316.57" stroke="#111" stroke-width="1.2"/>
<line x1="69.90" y1="315.97" x2="74.90" y2="315.97" stroke="#111" stroke-width="1.2"/>
<rect x="66.10" y="316.57" width="12.60" height="11.53" fill="#BE0630"/>
<line x1="86.65" y1="321.43" x2="86.65" y2="322.03" stroke="#111" stroke-width="1.2"/>
<line x1="84.15" y1="321.43" x2="89.15" y2="321.43" stroke="#111" stroke-width="1.2"/>
<rect x="80.35" y="322.03" width="12.60" height="6.07" fill="#2D5090"/>
<line x1="100.90" y1="288.06" x2="100.90" y2="294.74" stroke="#111" stroke-width="1.2"/>
<line x1="98.40" y1="288.06" x2="103.40" y2="288.06" stroke="#111" stroke-width="1.2"/>
<rect x="94.60" y="294.74" width="12.60" height="33.36" fill="#6EAF3A"/>
<line x1="115.15" y1="294.13" x2="115.15" y2="296.86" stroke="#111" stroke-width="1.2"/>
<line x1="112.65" y1="294.13" x2="117.65" y2="294.13" stroke="#111" stroke-width="1.2"/>
<rect x="108.85" y="296.86" width="12.60" height="31.24" fill="#5B2470"/>
<line x1="93.80" y1="328.10" x2="93.80" y2="330.90" stroke="#111" stroke-width="1.1"/>
<line x1="140.05" y1="276.54" x2="140.05" y2="278.06" stroke="#111" stroke-width="1.2"/>
<line x1="137.55" y1="276.54" x2="142.55" y2="276.54" stroke="#111" stroke-width="1.2"/>
<rect x="133.75" y="278.06" width="12.60" height="50.04" fill="#BE0630"/>
<line x1="154.30" y1="289.28" x2="154.30" y2="289.88" stroke="#111" stroke-width="1.2"/>
<line x1="151.80" y1="289.28" x2="156.80" y2="289.28" stroke="#111" stroke-width="1.2"/>
<rect x="148.00" y="289.88" width="12.60" height="38.22" fill="#2D5090"/>
<line x1="168.55" y1="249.24" x2="168.55" y2="249.85" stroke="#111" stroke-width="1.2"/>
<line x1="166.05" y1="249.24" x2="171.05" y2="249.24" stroke="#111" stroke-width="1.2"/>
<rect x="162.25" y="249.85" width="12.60" height="78.25" fill="#6EAF3A"/>
<line x1="182.80" y1="250.76" x2="182.80" y2="255.61" stroke="#111" stroke-width="1.2"/>
<line x1="180.30" y1="250.76" x2="185.30" y2="250.76" stroke="#111" stroke-width="1.2"/>
<rect x="176.50" y="255.61" width="12.60" height="72.49" fill="#5B2470"/>
<line x1="161.45" y1="328.10" x2="161.45" y2="330.90" stroke="#111" stroke-width="1.1"/>
<text x="73.40" y="356.60" font-size="8.5" text-anchor="end" fill="#222" class="m" transform="rotate(-45 73.40 356.60)">CD123-low</text>
<text x="89.15" y="354.40" font-size="8.5" text-anchor="end" fill="#222" class="m" transform="rotate(-45 89.15 354.40)">CD123-high</text>
<text x="106.50" y="354.40" font-size="8.5" text-anchor="end" fill="#222" class="m" transform="rotate(-45 106.50 354.40)">CXCR4-high</text>
<text x="123.95" y="353.30" font-size="8.5" text-anchor="end" fill="#222" class="m" transform="rotate(-45 123.95 353.30)">CD123-high + CXCR4-high</text>
<text x="143.50" y="356.50" font-size="8.5" text-anchor="end" fill="#222" class="m" transform="rotate(-45 143.50 356.50)">CD123-low</text>
<text x="160.30" y="354.40" font-size="8.5" text-anchor="end" fill="#222" class="m" transform="rotate(-45 160.30 354.40)">CD123-high</text>
<text x="177.30" y="354.40" font-size="8.5" text-anchor="end" fill="#222" class="m" transform="rotate(-45 177.30 354.40)">CXCR4-high</text>
<text x="191.50" y="353.30" font-size="8.5" text-anchor="end" fill="#222" class="m" transform="rotate(-45 191.50 353.30)">CD123-high + CXCR4-high</text>
<text x="64.70" y="342.30" font-size="8.4" text-anchor="start" fill="#2a2a2a" class="t" textLength="57.70" lengthAdjust="spacingAndGlyphs">10ng/mL SDF-1</text>
<text x="130.10" y="342.30" font-size="8.4" text-anchor="start" fill="#2a2a2a" class="t" textLength="62.60" lengthAdjust="spacingAndGlyphs">100ng/mL SDF-1</text>
<line x1="60.80" y1="347.70" x2="126.40" y2="347.70" stroke="#111" stroke-width="1.5"/>
<line x1="128.10" y1="347.70" x2="194.30" y2="347.70" stroke="#111" stroke-width="1.5"/>
<line x1="69.40" y1="200.80" x2="116.80" y2="200.80" stroke="#2a2a2a" stroke-width="1.6"/>
<circle cx="90.85" cy="197.10" r="1.15" fill="#1a1a1a"/>
<circle cx="94.95" cy="197.10" r="1.15" fill="#1a1a1a"/>
<line x1="83.90" y1="214.50" x2="116.80" y2="214.50" stroke="#2a2a2a" stroke-width="1.6"/>
<circle cx="97.95" cy="210.80" r="1.15" fill="#1a1a1a"/>
<circle cx="102.05" cy="210.80" r="1.15" fill="#1a1a1a"/>
<line x1="68.50" y1="227.90" x2="101.60" y2="227.90" stroke="#2a2a2a" stroke-width="1.6"/>
<circle cx="84.80" cy="224.20" r="1.15" fill="#1a1a1a"/>
<line x1="101.00" y1="243.00" x2="120.90" y2="243.00" stroke="#2a2a2a" stroke-width="1.6"/>
<text x="111.00" y="240.20" font-size="8" text-anchor="middle" font-weight="bold" fill="#4a4a4a" stroke="#4a4a4a" stroke-width="0.35" font-style="italic">#</text>
<line x1="68.50" y1="256.20" x2="88.40" y2="256.20" stroke="#2a2a2a" stroke-width="1.6"/>
<circle cx="78.50" cy="252.50" r="1.15" fill="#1a1a1a"/>
<line x1="139.50" y1="200.80" x2="186.50" y2="200.80" stroke="#2a2a2a" stroke-width="1.6"/>
<circle cx="162.80" cy="197.20" r="1.15" fill="#1a1a1a"/>
<line x1="152.10" y1="214.50" x2="185.00" y2="214.50" stroke="#2a2a2a" stroke-width="1.6"/>
<circle cx="168.40" cy="211.00" r="1.15" fill="#1a1a1a"/>
<line x1="140.80" y1="227.90" x2="173.80" y2="227.90" stroke="#2a2a2a" stroke-width="1.6"/>
<circle cx="153.30" cy="224.00" r="1.15" fill="#1a1a1a"/>
<circle cx="157.40" cy="224.00" r="1.15" fill="#1a1a1a"/>
<circle cx="161.50" cy="224.00" r="1.15" fill="#1a1a1a"/>
<line x1="166.00" y1="244.10" x2="186.80" y2="244.10" stroke="#2a2a2a" stroke-width="1.6"/>
<text x="176.30" y="241.50" font-size="8" text-anchor="middle" font-weight="bold" fill="#4a4a4a" stroke="#4a4a4a" stroke-width="0.35" font-style="italic">#</text>
<line x1="135.90" y1="255.50" x2="155.20" y2="255.50" stroke="#2a2a2a" stroke-width="1.6"/>
<circle cx="143.25" cy="252.20" r="1.15" fill="#1a1a1a"/>
<circle cx="147.35" cy="252.20" r="1.15" fill="#1a1a1a"/>
<text x="30.80" y="280.70" font-size="10" text-anchor="middle" fill="#222" class="n" textLength="55.80" lengthAdjust="spacingAndGlyphs" transform="rotate(-90 30.80 280.70)">Relative migration</text>
<text x="41.90" y="281.55" font-size="9.6" text-anchor="middle" fill="#222" class="n" textLength="45.30" lengthAdjust="spacingAndGlyphs" transform="rotate(-90 41.90 281.55)">towards SDF-1</text>
<text x="212.60" y="194.70" font-size="13.2" text-anchor="start" fill="#000" font-weight="bold" stroke="#000" stroke-width="0.3">D</text>
<text x="265.90" y="222.30" font-size="9" text-anchor="start" fill="#000" font-weight="bold" textLength="64.10" lengthAdjust="spacingAndGlyphs">IL-3 (10ng/mL)</text>
<text x="407.00" y="222.30" font-size="9" text-anchor="start" fill="#000" font-weight="bold" textLength="77.50" lengthAdjust="spacingAndGlyphs">GM-CSF 2ng/mL)</text>
<rect x="236.8" y="233.6" width="122.80000000000001" height="100.9" fill="none" stroke="#555" stroke-width="0.9"/>
<rect x="386.0" y="228.9" width="118.80000000000001" height="105.6" fill="none" stroke="#555" stroke-width="0.9"/>
<line x1="386.00" y1="228.90" x2="386.00" y2="334.90" stroke="#111" stroke-width="1.3"/>
<line x1="236.80" y1="233.60" x2="236.80" y2="334.90" stroke="#1a1a1a" stroke-width="1.2"/>
<line x1="236.80" y1="334.50" x2="351.60" y2="334.50" stroke="#222" stroke-width="1.1"/>
<line x1="386.00" y1="334.50" x2="496.80" y2="334.50" stroke="#222" stroke-width="1.1"/>
<line x1="235.30" y1="258.90" x2="236.80" y2="258.90" stroke="#666" stroke-width="0.6"/>
<line x1="235.30" y1="284.10" x2="236.80" y2="284.10" stroke="#666" stroke-width="0.6"/>
<line x1="235.30" y1="309.40" x2="236.80" y2="309.40" stroke="#666" stroke-width="0.6"/>
<line x1="384.50" y1="255.00" x2="386.00" y2="255.00" stroke="#666" stroke-width="0.6"/>
<line x1="384.50" y1="280.00" x2="386.00" y2="280.00" stroke="#666" stroke-width="0.6"/>
<line x1="384.50" y1="306.00" x2="386.00" y2="306.00" stroke="#666" stroke-width="0.6"/>
<path d="M262.00,334.18 L262.30,333.41 L262.60,333.37 L262.90,334.24 L263.20,334.04 L263.50,334.10 L263.80,333.35 L264.10,333.66 L264.40,333.05 L264.70,334.50 L265.00,332.30 L265.30,333.36 L265.60,332.72 L265.90,333.22 L266.20,333.32 L266.50,332.61 L266.80,332.25 L267.10,332.95 L267.40,332.83 L267.70,332.08 L268.00,333.24 L268.30,333.69 L268.60,332.05 L268.90,332.85 L269.20,333.83 L269.50,332.82 L269.80,332.45 L270.10,333.01 L270.40,333.20 L270.70,331.76 L271.00,330.91 L271.30,331.84 L271.60,332.23 L271.90,331.11 L272.20,330.71 L272.50,331.58 L272.80,330.38 L273.10,329.47 L273.40,330.36 L273.70,330.64 L274.00,328.98 L274.30,328.70 L274.60,327.31 L274.90,329.76 L275.20,328.64 L275.50,328.50 L275.80,329.28 L276.10,326.51 L276.40,325.58 L276.70,326.90 L277.00,323.60 L277.30,323.98 L277.60,323.18 L277.90,322.13 L278.20,319.87 L278.50,322.27 L278.80,317.64 L279.10,316.27 L279.40,319.27 L279.70,313.99 L280.00,313.79 L280.30,310.38 L280.60,311.18 L280.90,308.47 L281.20,305.83 L281.50,306.73 L281.80,301.51 L282.10,301.31 L282.40,298.01 L282.70,298.67 L283.00,292.76 L283.30,292.11 L283.60,292.31 L283.90,288.29 L284.20,284.69 L284.50,281.30 L284.80,288.95 L285.10,280.07 L285.40,279.48 L285.70,279.47 L286.00,280.58 L286.30,272.05 L286.60,278.14 L286.90,270.81 L287.20,266.80 L287.50,274.41 L287.80,268.60 L288.10,270.26 L288.40,263.51 L288.70,257.59 L289.00,254.16 L289.30,265.44 L289.60,259.69 L289.90,253.70 L290.20,249.26 L290.50,251.98 L290.80,254.79 L291.10,249.72 L291.40,249.51 L291.70,249.05 L292.00,249.95 L292.30,244.80 L292.60,244.04 L292.90,244.49 L293.20,243.93 L293.50,248.79 L293.80,246.70 L294.10,242.30 L294.40,247.40 L294.70,252.86 L295.00,243.64 L295.30,247.48 L295.60,242.81 L295.90,251.39 L296.20,254.47 L296.50,259.15 L296.80,250.62 L297.10,247.53 L297.40,260.52 L297.70,261.12 L298.00,259.11 L298.30,266.13 L298.60,266.48 L298.90,268.96 L299.20,269.44 L299.50,268.85 L299.80,274.44 L300.10,273.65 L300.40,279.06 L300.70,278.17 L301.00,286.80 L301.30,286.07 L301.60,280.91 L301.90,286.23 L302.20,284.27 L302.50,286.27 L302.80,286.05 L303.10,289.35 L303.40,290.73 L303.70,295.53 L304.00,298.87 L304.30,300.78 L304.60,302.02 L304.90,305.36 L305.20,305.84 L305.50,306.67 L305.80,307.80 L306.10,310.91 L306.40,315.93 L306.70,313.52 L307.00,313.98 L307.30,313.40 L307.60,315.40 L307.90,318.63 L308.20,319.77 L308.50,316.13 L308.80,319.31 L309.10,318.66 L309.40,319.33 L309.70,324.85 L310.00,324.11 L310.30,324.68 L310.60,325.03 L310.90,325.54 L311.20,326.48 L311.50,327.00 L311.80,329.55 L312.10,328.37 L312.40,329.52 L312.70,328.73 L313.00,329.54 L313.30,328.42 L313.60,328.32 L313.90,329.02 L314.20,329.13 L314.50,329.50 L314.80,330.21 L315.10,330.02 L315.40,330.49 L315.70,329.67 L316.00,330.19 L316.30,329.72 L316.60,331.80 L316.90,329.66 L317.20,331.45 L317.50,331.53 L317.80,331.11 L318.10,331.57 L318.40,330.80 L318.70,331.70 L319.00,332.23 L319.30,332.08 L319.60,330.11 L319.90,331.37 L320.20,332.55 L320.50,331.53 L320.80,333.02 L321.10,330.04 L321.40,333.10 L321.70,331.37 L322.00,331.38 L322.30,333.19 L322.60,331.72 L322.90,331.19 L323.20,331.71 L323.50,331.96 L323.80,331.44 L324.10,332.17 L324.40,332.09 L324.70,332.54 L325.00,331.99 L325.30,333.28 L325.60,331.92 L325.90,332.98 L326.20,333.47 L326.50,332.34 L326.80,331.32 L327.10,331.92 L327.40,333.11 L327.70,332.19 L328.00,333.11 L328.30,332.88 L328.60,332.74 L328.90,334.50 L329.20,332.71 L329.50,333.66 L329.80,333.43 L330.10,334.04 L330.40,334.09 L330.70,333.69 L331.00,332.40 L331.30,331.81 L331.60,333.08 L331.90,332.29 L332.20,333.30 L332.50,334.50 L332.80,333.06 L333.10,332.87 L333.40,333.52 L333.70,333.03 L334.00,332.86 L334.30,333.89 L334.60,334.34 L334.90,333.49 L335.20,333.51 L335.50,333.63 L335.80,332.75 L336.10,332.29 L336.40,333.75 L336.70,333.03 L337.00,332.90 L337.30,333.08 L337.60,332.89 L337.90,333.85 L338.20,333.15 L338.50,332.37 L338.80,333.17 L339.10,334.08 L339.40,333.35 L339.70,332.98 L340.00,333.55 L340.30,334.14 L340.60,332.91 L340.90,334.50 L341.20,333.58 L341.50,333.91 L341.80,334.50 L342.10,333.26 L342.40,333.78 L342.70,334.50 L343.00,333.70 L343.30,334.29 L343.60,334.50 L343.90,334.47 L344.20,334.00 L344.50,333.83 L344.80,334.10" fill="none" stroke="#3A46B4" stroke-width="1.4" stroke-linejoin="round"/>
<path d="M252.00,334.20 L252.30,333.66 L252.60,333.79 L252.90,333.78 L253.20,333.29 L253.50,334.50 L253.80,334.43 L254.10,334.50 L254.40,334.12 L254.70,333.50 L255.00,334.04 L255.30,333.73 L255.60,334.50 L255.90,333.89 L256.20,334.47 L256.50,332.92 L256.80,333.41 L257.10,333.35 L257.40,333.92 L257.70,333.50 L258.00,333.46 L258.30,334.03 L258.60,334.11 L258.90,333.80 L259.20,333.93 L259.50,333.74 L259.80,333.34 L260.10,333.48 L260.40,332.14 L260.70,333.82 L261.00,331.65 L261.30,332.67 L261.60,332.41 L261.90,332.95 L262.20,331.67 L262.50,331.57 L262.80,330.95 L263.10,331.40 L263.40,330.39 L263.70,328.19 L264.00,329.28 L264.30,329.98 L264.60,327.86 L264.90,328.72 L265.20,327.47 L265.50,327.05 L265.80,327.91 L266.10,329.51 L266.40,327.11 L266.70,325.53 L267.00,326.40 L267.30,324.89 L267.60,323.27 L267.90,324.64 L268.20,321.13 L268.50,319.63 L268.80,319.60 L269.10,318.58 L269.40,317.82 L269.70,314.94 L270.00,317.67 L270.30,317.16 L270.60,315.23 L270.90,317.20 L271.20,317.62 L271.50,315.54 L271.80,312.27 L272.10,310.85 L272.40,313.76 L272.70,313.36 L273.00,308.88 L273.30,307.41 L273.60,305.91 L273.90,302.82 L274.20,299.50 L274.50,299.86 L274.80,296.94 L275.10,299.24 L275.40,297.54 L275.70,291.92 L276.00,288.79 L276.30,286.62 L276.60,284.99 L276.90,282.45 L277.20,280.37 L277.50,285.57 L277.80,279.64 L278.10,273.03 L278.40,269.57 L278.70,273.35 L279.00,261.63 L279.30,263.98 L279.60,260.32 L279.90,255.59 L280.20,250.91 L280.50,255.74 L280.80,243.98 L281.10,246.28 L281.40,248.38 L281.70,245.51 L282.00,251.62 L282.30,244.85 L282.60,240.70 L282.90,243.04 L283.20,240.83 L283.50,239.52 L283.80,238.15 L284.10,234.40 L284.40,237.17 L284.70,237.46 L285.00,234.40 L285.30,234.40 L285.60,237.90 L285.90,235.98 L286.20,245.34 L286.50,235.61 L286.80,239.60 L287.10,238.42 L287.40,244.82 L287.70,249.65 L288.00,243.75 L288.30,245.45 L288.60,252.54 L288.90,257.79 L289.20,255.11 L289.50,261.37 L289.80,256.28 L290.10,271.01 L290.40,274.81 L290.70,277.61 L291.00,286.27 L291.30,285.88 L291.60,280.60 L291.90,287.54 L292.20,290.76 L292.50,294.43 L292.80,291.43 L293.10,293.19 L293.40,296.16 L293.70,299.68 L294.00,299.92 L294.30,301.69 L294.60,306.05 L294.90,305.06 L295.20,312.89 L295.50,312.60 L295.80,311.90 L296.10,312.87 L296.40,316.27 L296.70,314.78 L297.00,314.85 L297.30,317.35 L297.60,319.13 L297.90,319.54 L298.20,321.63 L298.50,325.33 L298.80,325.29 L299.10,323.67 L299.40,327.45 L299.70,326.29 L300.00,327.33 L300.30,328.42 L300.60,328.99 L300.90,328.07 L301.20,328.28 L301.50,328.56 L301.80,330.73 L302.10,329.58 L302.40,329.05 L302.70,328.57 L303.00,329.05 L303.30,329.06 L303.60,328.97 L303.90,329.44 L304.20,331.30 L304.50,330.58 L304.80,331.52 L305.10,333.31 L305.40,332.77 L305.70,329.36 L306.00,332.53 L306.30,333.62 L306.60,332.17 L306.90,330.34 L307.20,331.82 L307.50,331.48 L307.80,332.15 L308.10,332.06 L308.40,330.96 L308.70,331.44 L309.00,332.27 L309.30,331.51 L309.60,331.44 L309.90,332.58 L310.20,332.25 L310.50,332.33 L310.80,333.14 L311.10,331.77 L311.40,332.88 L311.70,333.29 L312.00,334.15 L312.30,333.90 L312.60,331.88 L312.90,333.87 L313.20,332.73 L313.50,333.34 L313.80,332.72 L314.10,332.67 L314.40,333.69 L314.70,333.36 L315.00,333.10 L315.30,333.11 L315.60,333.23 L315.90,333.45 L316.20,332.81 L316.50,332.35 L316.80,332.92 L317.10,333.83 L317.40,333.06 L317.70,333.31 L318.00,333.06 L318.30,332.15 L318.60,333.56 L318.90,333.45 L319.20,334.05 L319.50,333.67 L319.80,333.88 L320.10,332.47 L320.40,333.34 L320.70,333.93 L321.00,332.34 L321.30,334.45 L321.60,333.08 L321.90,333.00 L322.20,333.30 L322.50,333.85 L322.80,333.79 L323.10,333.94 L323.40,333.27 L323.70,334.50 L324.00,334.10 L324.30,333.72 L324.60,334.18 L324.90,334.50 L325.20,334.01 L325.50,334.33 L325.80,333.45 L326.10,333.13 L326.40,333.91 L326.70,334.50 L327.00,334.10 L327.30,334.50 L327.60,333.66 L327.90,333.14 L328.20,333.91 L328.50,333.02 L328.80,333.33 L329.10,333.78 L329.40,334.50 L329.70,334.07 L330.00,334.50" fill="none" stroke="#D81E24" stroke-width="1.4" stroke-linejoin="round"/>
<path d="M236.80,325.21 L237.10,331.09 L237.40,325.57 L237.70,326.39 L238.00,324.37 L238.30,325.27 L238.60,322.93 L238.90,325.07 L239.20,325.28 L239.50,323.00 L239.80,322.52 L240.10,323.04 L240.40,322.20 L240.70,319.96 L241.00,319.27 L241.30,320.58 L241.60,319.70 L241.90,321.53 L242.20,314.71 L242.50,317.42 L242.80,313.87 L243.10,314.86 L243.40,311.28 L243.70,311.33 L244.00,313.00 L244.30,310.04 L244.60,314.19 L244.90,309.09 L245.20,314.00 L245.50,309.60 L245.80,307.42 L246.10,308.51 L246.40,309.11 L246.70,309.41 L247.00,307.75 L247.30,303.98 L247.60,303.61 L247.90,305.50 L248.20,307.05 L248.50,301.96 L248.80,306.19 L249.10,303.36 L249.40,303.16 L249.70,298.94 L250.00,299.45 L250.30,298.20 L250.60,297.96 L250.90,299.61 L251.20,295.90 L251.50,292.75 L251.80,295.39 L252.10,292.64 L252.40,293.59 L252.70,289.52 L253.00,289.44 L253.30,287.84 L253.60,288.23 L253.90,283.65 L254.20,288.14 L254.50,287.06 L254.80,286.78 L255.10,282.33 L255.40,284.85 L255.70,283.91 L256.00,278.89 L256.30,276.56 L256.60,275.26 L256.90,282.32 L257.20,274.02 L257.50,271.47 L257.80,268.57 L258.10,262.52 L258.40,252.90 L258.70,258.87 L259.00,259.05 L259.30,252.73 L259.60,254.30 L259.90,254.86 L260.20,258.42 L260.50,256.77 L260.80,256.00 L261.10,264.36 L261.40,262.62 L261.70,252.53 L262.00,252.64 L262.30,256.64 L262.60,257.74 L262.90,254.07 L263.20,256.93 L263.50,253.18 L263.80,250.20 L264.10,251.66 L264.40,250.20 L264.70,256.29 L265.00,255.92 L265.30,254.14 L265.60,265.12 L265.90,263.44 L266.20,264.79 L266.50,265.98 L266.80,264.54 L267.10,269.98 L267.40,279.37 L267.70,278.20 L268.00,282.64 L268.30,284.41 L268.60,277.65 L268.90,288.20 L269.20,286.27 L269.50,290.61 L269.80,288.07 L270.10,291.18 L270.40,293.52 L270.70,295.72 L271.00,294.26 L271.30,300.97 L271.60,302.01 L271.90,304.47 L272.20,300.34 L272.50,305.66 L272.80,308.79 L273.10,308.90 L273.40,304.25 L273.70,311.22 L274.00,310.81 L274.30,313.10 L274.60,315.52 L274.90,318.25 L275.20,319.08 L275.50,320.59 L275.80,325.03 L276.10,319.06 L276.40,322.95 L276.70,325.00 L277.00,326.32 L277.30,327.94 L277.60,326.44 L277.90,328.21 L278.20,327.77 L278.50,330.32 L278.80,328.63 L279.10,327.20 L279.40,330.09 L279.70,329.30 L280.00,330.46 L280.30,329.77 L280.60,330.20 L280.90,331.52 L281.20,332.43 L281.50,332.06 L281.80,332.63 L282.10,333.48 L282.40,333.07 L282.70,333.22 L283.00,334.10 L283.30,333.60 L283.60,331.64 L283.90,333.03 L284.20,333.50 L284.50,331.96 L284.80,333.88 L285.10,334.50 L285.40,334.50 L285.70,334.50 L286.00,333.48 L286.30,333.04 L286.60,334.50 L286.90,332.98 L287.20,334.45 L287.50,333.54 L287.80,333.42 L288.10,333.46 L288.40,333.73 L288.70,333.64 L289.00,334.45 L289.30,333.60 L289.60,333.19 L289.90,333.24 L290.20,332.24 L290.50,333.17 L290.80,333.40 L291.10,332.86 L291.40,333.71 L291.70,334.50 L292.00,334.50 L292.30,333.15 L292.60,333.58 L292.90,333.43 L293.20,334.12 L293.50,333.74 L293.80,332.89 L294.10,333.78 L294.40,334.50 L294.70,334.23 L295.00,333.23 L295.30,334.50 L295.60,334.50 L295.90,334.50 L296.20,334.50 L296.50,333.63 L296.80,334.02 L297.10,334.49 L297.40,334.50 L297.70,334.17 L298.00,334.20 L298.30,334.42 L298.60,334.27 L298.90,334.50 L299.20,333.25 L299.50,334.50 L299.80,334.13" fill="none" stroke="#000" stroke-width="1.4" stroke-linejoin="round"/>
<path d="M399.30,334.02 L399.60,333.35 L399.90,334.50 L400.20,333.07 L400.50,333.96 L400.80,334.34 L401.10,334.29 L401.40,334.40 L401.70,333.81 L402.00,333.07 L402.30,333.16 L402.60,333.05 L402.90,334.50 L403.20,334.42 L403.50,332.20 L403.80,332.53 L404.10,331.58 L404.40,332.20 L404.70,333.77 L405.00,331.99 L405.30,332.41 L405.60,332.66 L405.90,333.39 L406.20,332.69 L406.50,332.74 L406.80,331.84 L407.10,332.39 L407.40,331.13 L407.70,333.00 L408.00,331.90 L408.30,331.81 L408.60,332.90 L408.90,333.11 L409.20,331.15 L409.50,331.51 L409.80,332.04 L410.10,331.42 L410.40,332.25 L410.70,331.29 L411.00,331.94 L411.30,331.07 L411.60,330.17 L411.90,331.31 L412.20,330.01 L412.50,331.76 L412.80,330.88 L413.10,331.86 L413.40,330.43 L413.70,330.12 L414.00,330.28 L414.30,330.22 L414.60,328.36 L414.90,328.12 L415.20,330.88 L415.50,328.06 L415.80,331.11 L416.10,329.80 L416.40,328.96 L416.70,328.43 L417.00,329.60 L417.30,329.03 L417.60,327.86 L417.90,328.61 L418.20,328.35 L418.50,326.50 L418.80,325.95 L419.10,327.02 L419.40,326.72 L419.70,326.56 L420.00,326.94 L420.30,326.53 L420.60,326.23 L420.90,322.71 L421.20,322.72 L421.50,321.72 L421.80,320.09 L422.10,318.43 L422.40,315.76 L422.70,317.66 L423.00,316.82 L423.30,314.62 L423.60,315.34 L423.90,309.85 L424.20,309.19 L424.50,308.33 L424.80,308.73 L425.10,305.55 L425.40,303.52 L425.70,303.42 L426.00,303.89 L426.30,305.91 L426.60,298.37 L426.90,299.67 L427.20,298.83 L427.50,292.32 L427.80,291.63 L428.10,294.24 L428.40,288.60 L428.70,286.99 L429.00,281.31 L429.30,287.56 L429.60,281.10 L429.90,278.28 L430.20,271.43 L430.50,277.04 L430.80,280.86 L431.10,273.92 L431.40,266.54 L431.70,262.63 L432.00,257.32 L432.30,259.39 L432.60,261.15 L432.90,252.94 L433.20,253.70 L433.50,252.02 L433.80,248.87 L434.10,241.89 L434.40,247.82 L434.70,246.72 L435.00,241.55 L435.30,239.97 L435.60,241.25 L435.90,239.94 L436.20,233.49 L436.50,229.70 L436.80,229.70 L437.10,229.70 L437.40,229.70 L437.70,239.64 L438.00,238.52 L438.30,236.13 L438.60,238.82 L438.90,238.80 L439.20,235.47 L439.50,241.65 L439.80,239.44 L440.10,246.58 L440.40,243.52 L440.70,235.76 L441.00,243.93 L441.30,241.72 L441.60,241.33 L441.90,246.83 L442.20,243.91 L442.50,246.30 L442.80,245.59 L443.10,251.47 L443.40,255.40 L443.70,255.26 L444.00,255.66 L444.30,253.93 L444.60,258.61 L444.90,261.36 L445.20,262.70 L445.50,260.55 L445.80,268.18 L446.10,263.52 L446.40,274.40 L446.70,274.46 L447.00,272.06 L447.30,275.23 L447.60,281.45 L447.90,281.32 L448.20,285.14 L448.50,282.79 L448.80,285.80 L449.10,291.01 L449.40,289.76 L449.70,293.56 L450.00,294.54 L450.30,295.96 L450.60,299.28 L450.90,298.62 L451.20,300.32 L451.50,301.96 L451.80,301.86 L452.10,306.41 L452.40,310.46 L452.70,309.69 L453.00,309.66 L453.30,311.46 L453.60,311.78 L453.90,312.80 L454.20,315.99 L454.50,317.40 L454.80,320.34 L455.10,318.33 L455.40,321.60 L455.70,323.42 L456.00,323.96 L456.30,323.39 L456.60,320.93 L456.90,322.66 L457.20,326.78 L457.50,325.03 L457.80,325.01 L458.10,325.05 L458.40,325.97 L458.70,327.78 L459.00,326.96 L459.30,328.67 L459.60,330.90 L459.90,329.25 L460.20,329.42 L460.50,327.71 L460.80,327.81 L461.10,330.40 L461.40,329.23 L461.70,329.53 L462.00,331.38 L462.30,332.22 L462.60,330.34 L462.90,330.31 L463.20,331.25 L463.50,333.53 L463.80,331.09 L464.10,331.81 L464.40,332.25 L464.70,331.79 L465.00,332.60 L465.30,331.12 L465.60,331.69 L465.90,332.27 L466.20,331.59 L466.50,331.94 L466.80,333.31 L467.10,332.18 L467.40,332.51 L467.70,333.67 L468.00,332.81 L468.30,331.98 L468.60,332.91 L468.90,331.33 L469.20,331.18 L469.50,332.86 L469.80,332.25 L470.10,331.21 L470.40,333.08 L470.70,333.57 L471.00,333.28 L471.30,334.04 L471.60,334.08 L471.90,333.02 L472.20,333.54 L472.50,333.14 L472.80,333.05 L473.10,333.96 L473.40,333.63 L473.70,333.69 L474.00,333.97 L474.30,334.09 L474.60,333.35 L474.90,333.65 L475.20,333.36 L475.50,332.94 L475.80,332.95 L476.10,334.32 L476.40,334.17 L476.70,333.80 L477.00,333.57 L477.30,333.06 L477.60,334.27 L477.90,333.95 L478.20,333.54 L478.50,332.94 L478.80,332.86 L479.10,334.35 L479.40,333.87 L479.70,334.24 L480.00,333.24 L480.30,333.50 L480.60,334.00 L480.90,334.16 L481.20,333.63 L481.50,333.23 L481.80,334.29 L482.10,334.03 L482.40,333.79 L482.70,333.85 L483.00,333.68 L483.30,334.47 L483.60,334.24 L483.90,334.50 L484.20,333.89 L484.50,333.33 L484.80,334.50 L485.10,334.32 L485.40,333.47 L485.70,334.06 L486.00,334.50 L486.30,333.36 L486.60,334.50 L486.90,333.28 L487.20,334.36 L487.50,334.43 L487.80,334.05 L488.10,334.09 L488.40,333.77 L488.70,333.83 L489.00,334.19 L489.30,333.43 L489.60,333.76 L489.90,334.00 L490.20,334.09 L490.50,334.22 L490.80,334.22 L491.10,333.86" fill="none" stroke="#3A46B4" stroke-width="1.4" stroke-linejoin="round"/>
<path d="M398.00,334.50 L398.30,334.50 L398.60,334.50 L398.90,334.35 L399.20,333.11 L399.50,334.50 L399.80,333.24 L400.10,332.97 L400.40,333.90 L400.70,334.06 L401.00,333.23 L401.30,332.67 L401.60,331.96 L401.90,332.73 L402.20,332.17 L402.50,333.53 L402.80,333.78 L403.10,334.34 L403.40,333.87 L403.70,333.22 L404.00,332.74 L404.30,333.83 L404.60,332.12 L404.90,332.77 L405.20,333.13 L405.50,333.17 L405.80,330.85 L406.10,332.29 L406.40,333.10 L406.70,333.09 L407.00,330.68 L407.30,332.65 L407.60,331.08 L407.90,330.80 L408.20,334.00 L408.50,330.71 L408.80,331.96 L409.10,332.62 L409.40,332.01 L409.70,330.85 L410.00,330.89 L410.30,330.71 L410.60,331.69 L410.90,329.59 L411.20,329.22 L411.50,328.74 L411.80,329.44 L412.10,328.37 L412.40,328.01 L412.70,329.32 L413.00,328.99 L413.30,329.18 L413.60,329.07 L413.90,328.59 L414.20,331.27 L414.50,329.53 L414.80,328.40 L415.10,331.21 L415.40,330.26 L415.70,326.47 L416.00,329.43 L416.30,328.52 L416.60,327.29 L416.90,328.14 L417.20,328.43 L417.50,327.80 L417.80,327.49 L418.10,327.49 L418.40,326.30 L418.70,324.20 L419.00,325.35 L419.30,322.44 L419.60,322.57 L419.90,321.30 L420.20,320.57 L420.50,320.91 L420.80,318.62 L421.10,317.72 L421.40,319.17 L421.70,314.70 L422.00,313.91 L422.30,312.98 L422.60,313.50 L422.90,316.46 L423.20,306.71 L423.50,308.62 L423.80,311.92 L424.10,304.41 L424.40,306.14 L424.70,301.66 L425.00,302.18 L425.30,297.92 L425.60,298.23 L425.90,296.01 L426.20,294.23 L426.50,289.28 L426.80,293.91 L427.10,285.10 L427.40,284.31 L427.70,285.73 L428.00,282.06 L428.30,281.28 L428.60,277.68 L428.90,272.89 L429.20,275.78 L429.50,269.23 L429.80,266.47 L430.10,265.32 L430.40,260.15 L430.70,263.35 L431.00,258.40 L431.30,249.86 L431.60,255.93 L431.90,254.15 L432.20,251.28 L432.50,246.81 L432.80,248.85 L433.10,245.38 L433.40,249.46 L433.70,245.26 L434.00,243.60 L434.30,242.58 L434.60,238.26 L434.90,232.26 L435.20,234.87 L435.50,237.01 L435.80,229.70 L436.10,230.32 L436.40,237.32 L436.70,231.99 L437.00,237.57 L437.30,236.63 L437.60,237.82 L437.90,232.56 L438.20,239.88 L438.50,238.97 L438.80,238.08 L439.10,235.89 L439.40,236.39 L439.70,245.73 L440.00,238.50 L440.30,242.86 L440.60,240.58 L440.90,242.17 L441.20,249.04 L441.50,247.99 L441.80,250.24 L442.10,248.86 L442.40,245.69 L442.70,253.51 L443.00,258.12 L443.30,249.16 L443.60,263.39 L443.90,262.10 L444.20,264.25 L444.50,270.46 L444.80,265.84 L445.10,267.12 L445.40,272.86 L445.70,274.52 L446.00,277.29 L446.30,284.16 L446.60,280.29 L446.90,286.68 L447.20,287.91 L447.50,286.20 L447.80,286.54 L448.10,293.15 L448.40,289.59 L448.70,289.80 L449.00,295.69 L449.30,298.07 L449.60,299.15 L449.90,302.36 L450.20,304.93 L450.50,302.90 L450.80,304.19 L451.10,308.31 L451.40,309.50 L451.70,311.36 L452.00,312.91 L452.30,314.83 L452.60,317.23 L452.90,314.09 L453.20,317.82 L453.50,318.50 L453.80,317.06 L454.10,321.95 L454.40,320.78 L454.70,324.32 L455.00,323.71 L455.30,322.23 L455.60,324.19 L455.90,326.39 L456.20,327.02 L456.50,324.92 L456.80,327.16 L457.10,325.54 L457.40,326.61 L457.70,327.88 L458.00,328.09 L458.30,327.32 L458.60,328.38 L458.90,329.73 L459.20,328.44 L459.50,329.43 L459.80,329.49 L460.10,328.81 L460.40,329.29 L460.70,328.76 L461.00,330.24 L461.30,330.72 L461.60,330.80 L461.90,330.29 L462.20,331.65 L462.50,331.41 L462.80,332.06 L463.10,332.14 L463.40,331.66 L463.70,329.39 L464.00,331.98 L464.30,331.48 L464.60,331.69 L464.90,332.00 L465.20,331.89 L465.50,330.31 L465.80,332.28 L466.10,330.78 L466.40,331.66 L466.70,332.98 L467.00,332.86 L467.30,332.78 L467.60,333.34 L467.90,331.64 L468.20,332.29 L468.50,332.28 L468.80,333.53 L469.10,332.48 L469.40,333.29 L469.70,331.19 L470.00,333.10 L470.30,332.90 L470.60,332.88 L470.90,333.57 L471.20,333.58 L471.50,333.65 L471.80,332.90 L472.10,333.97 L472.40,333.62 L472.70,333.32 L473.00,333.80 L473.30,334.42 L473.60,334.32 L473.90,333.84 L474.20,334.19 L474.50,333.00 L474.80,333.60 L475.10,333.64 L475.40,334.26 L475.70,333.32 L476.00,333.88 L476.30,334.25 L476.60,334.07 L476.90,332.25 L477.20,334.07 L477.50,334.24 L477.80,333.04 L478.10,333.30 L478.40,333.92 L478.70,332.95 L479.00,334.50 L479.30,334.07 L479.60,334.50 L479.90,333.02 L480.20,333.80 L480.50,332.34 L480.80,333.59 L481.10,333.59 L481.40,334.50 L481.70,334.50 L482.00,334.18 L482.30,333.41 L482.60,334.50 L482.90,334.50 L483.20,333.49 L483.50,333.47 L483.80,334.49 L484.10,333.76 L484.40,333.41 L484.70,333.40 L485.00,334.50 L485.30,334.02 L485.60,334.48 L485.90,333.58 L486.20,334.05 L486.50,334.50 L486.80,334.07 L487.10,333.83 L487.40,334.50 L487.70,334.50 L488.00,334.50 L488.30,334.34 L488.60,334.49 L488.90,334.50 L489.20,334.50 L489.50,334.26 L489.80,334.05" fill="none" stroke="#D81E24" stroke-width="1.4" stroke-linejoin="round"/>
<path d="M386.50,326.81 L386.80,326.58 L387.10,326.31 L387.40,328.79 L387.70,324.36 L388.00,327.41 L388.30,322.35 L388.60,322.15 L388.90,321.15 L389.20,320.49 L389.50,320.68 L389.80,321.41 L390.10,320.41 L390.40,316.70 L390.70,319.64 L391.00,318.40 L391.30,318.65 L391.60,317.64 L391.90,316.61 L392.20,314.91 L392.50,315.30 L392.80,314.77 L393.10,314.64 L393.40,312.61 L393.70,314.82 L394.00,311.37 L394.30,308.14 L394.60,311.77 L394.90,309.62 L395.20,302.89 L395.50,310.35 L395.80,310.59 L396.10,306.56 L396.40,300.05 L396.70,298.00 L397.00,304.19 L397.30,298.49 L397.60,298.42 L397.90,298.47 L398.20,300.51 L398.50,291.47 L398.80,294.95 L399.10,290.46 L399.40,289.60 L399.70,283.25 L400.00,283.68 L400.30,288.77 L400.60,284.83 L400.90,279.64 L401.20,285.11 L401.50,280.93 L401.80,277.65 L402.10,281.80 L402.40,278.75 L402.70,278.31 L403.00,270.13 L403.30,270.88 L403.60,264.10 L403.90,264.79 L404.20,261.30 L404.50,261.54 L404.80,256.73 L405.10,257.80 L405.40,259.21 L405.70,249.95 L406.00,248.96 L406.30,242.65 L406.60,249.64 L406.90,249.59 L407.20,251.14 L407.50,260.23 L407.80,251.02 L408.10,244.61 L408.40,249.85 L408.70,256.33 L409.00,244.77 L409.30,248.38 L409.60,246.74 L409.90,246.20 L410.20,244.30 L410.50,241.22 L410.80,249.33 L411.10,243.50 L411.40,244.39 L411.70,241.10 L412.00,246.02 L412.30,241.10 L412.60,241.10 L412.90,241.10 L413.20,248.55 L413.50,244.52 L413.80,247.67 L414.10,256.32 L414.40,254.70 L414.70,258.18 L415.00,262.74 L415.30,264.85 L415.60,269.85 L415.90,269.44 L416.20,269.70 L416.50,275.72 L416.80,280.47 L417.10,274.94 L417.40,281.56 L417.70,282.78 L418.00,285.92 L418.30,289.14 L418.60,288.42 L418.90,293.83 L419.20,294.75 L419.50,300.83 L419.80,303.59 L420.10,302.92 L420.40,299.91 L420.70,306.07 L421.00,304.55 L421.30,309.94 L421.60,312.17 L421.90,316.36 L422.20,317.14 L422.50,315.64 L422.80,318.42 L423.10,323.01 L423.40,324.36 L423.70,323.45 L424.00,327.62 L424.30,326.48 L424.60,328.94 L424.90,327.25 L425.20,326.37 L425.50,327.40 L425.80,328.30 L426.10,328.62 L426.40,329.07 L426.70,329.19 L427.00,328.04 L427.30,328.28 L427.60,329.30 L427.90,331.28 L428.20,330.62 L428.50,329.87 L428.80,330.23 L429.10,331.79 L429.40,329.83 L429.70,327.99 L430.00,331.94 L430.30,330.76 L430.60,329.35 L430.90,331.45 L431.20,331.54 L431.50,331.10 L431.80,330.83 L432.10,331.83 L432.40,330.63 L432.70,333.35 L433.00,331.09 L433.30,331.43 L433.60,331.98 L433.90,331.58 L434.20,331.95 L434.50,330.93 L434.80,332.55 L435.10,332.26 L435.40,333.46 L435.70,333.31 L436.00,332.66 L436.30,333.79 L436.60,333.29 L436.90,333.74 L437.20,333.16 L437.50,332.76 L437.80,332.22 L438.10,334.44 L438.40,333.23 L438.70,332.54 L439.00,332.27 L439.30,332.35 L439.60,334.37 L439.90,333.82 L440.20,333.14 L440.50,332.90 L440.80,333.34 L441.10,333.37 L441.40,333.39 L441.70,334.06 L442.00,333.47 L442.30,333.06 L442.60,333.81 L442.90,332.85 L443.20,334.50 L443.50,333.83 L443.80,332.55 L444.10,333.09 L444.40,332.74 L444.70,333.57 L445.00,334.42 L445.30,334.00 L445.60,332.75 L445.90,334.50 L446.20,334.31 L446.50,334.50 L446.80,334.07 L447.10,334.01 L447.40,333.41 L447.70,334.27 L448.00,332.74 L448.30,333.40 L448.60,334.08 L448.90,334.40 L449.20,334.50 L449.50,333.76 L449.80,332.67 L450.10,333.95 L450.40,334.47 L450.70,333.91 L451.00,334.18 L451.30,334.42 L451.60,334.50 L451.90,333.95 L452.20,333.07 L452.50,333.24 L452.80,333.39 L453.10,333.84 L453.40,333.70 L453.70,333.41 L454.00,334.02 L454.30,333.84 L454.60,334.23 L454.90,333.40 L455.20,334.50 L455.50,333.67 L455.80,333.59 L456.10,333.61 L456.40,333.69 L456.70,334.33 L457.00,334.39 L457.30,334.32 L457.60,334.31 L457.90,334.50 L458.20,334.36 L458.50,334.47 L458.80,334.50 L459.10,333.98 L459.40,334.50 L459.70,334.06 L460.00,333.46" fill="none" stroke="#000" stroke-width="1.4" stroke-linejoin="round"/>
<text x="227.90" y="282.80" font-size="9.0" text-anchor="middle" fill="#222" class="n" textLength="38.80" lengthAdjust="spacingAndGlyphs" transform="rotate(-90 227.90 282.80)">Cell number</text>
<text x="261.30" y="348.70" font-size="10.2" text-anchor="start" fill="#111" class="n" textLength="37.50" lengthAdjust="spacingAndGlyphs">CXCR4-APC</text>
<line x1="302.50" y1="346.00" x2="487.00" y2="346.00" stroke="#000" stroke-width="1.7"/>
<path d="M483.3,342.7 L492.6,346.0 L483.3,349.4 L485.8,346.0 Z" fill="#000" stroke="#000" stroke-width="0.5"/>
<path d="M0,0 H520 V443 H0 Z M1.5,1.6 H518.2 V441.4 L1.5,435.2 Z" fill="#000" fill-rule="evenodd"/>
<path d="M0,436.8 L520,443.5 L520,443 L0,443 Z" fill="#fff"/>
</svg>
</body></html>
